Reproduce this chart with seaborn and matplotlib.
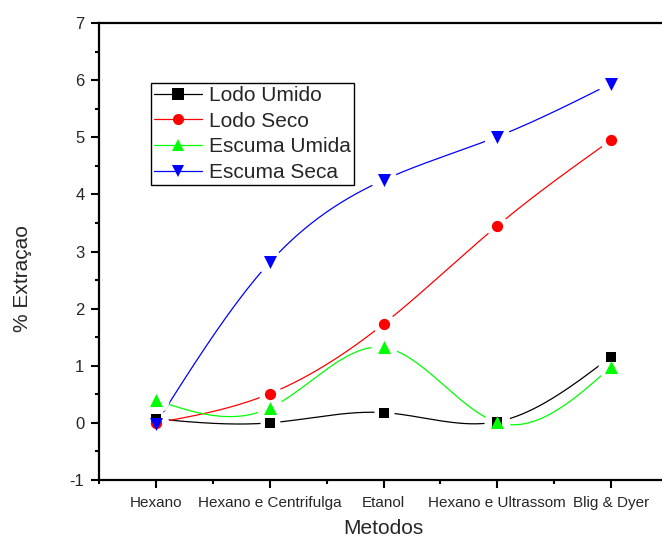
import numpy as np
import pandas as pd
import matplotlib
matplotlib.use("Agg")
import matplotlib.pyplot as plt
import seaborn as sns
from matplotlib.lines import Line2D
from matplotlib.ticker import MultipleLocator

metodos = ["Hexano", "Hexano e Centrifulga", "Etanol", "Hexano e Ultrassom", "Blig & Dyer"]
lodo_umido = [0.07, 0.0, 0.18, 0.02, 1.16]
lodo_seco = [0.0, 0.51, 1.73, 3.45, 4.95]
escuma_umida = [0.40, 0.26, 1.32, 0.01, 0.98]
escuma_seca = [-0.02, 2.81, 4.25, 5.01, 5.94]

series = ["Lodo Umido", "Lodo Seco", "Escuma Umida", "Escuma Seca"]
cores = {"Lodo Umido": "#000000", "Lodo Seco": "#ff0000",
         "Escuma Umida": "#00ff00", "Escuma Seca": "#0000ff"}
marcadores = {"Lodo Umido": "s", "Lodo Seco": "o", "Escuma Umida": "^", "Escuma Seca": "v"}
tamanhos = {"Lodo Umido": 52, "Lodo Seco": 66, "Escuma Umida": 88, "Escuma Seca": 88}

df = pd.DataFrame({
    "x": list(range(len(metodos))) * 4,
    "valor": lodo_umido + lodo_seco + escuma_umida + escuma_seca,
    "serie": sum([[s] * len(metodos) for s in series], []),
})


def spline_natural(y, n=60):
    # spline cubica natural (como o "spline" do Origin), x igualmente espacado
    y = np.asarray(y, float)
    k = len(y)
    A = np.zeros((k, k))
    b = np.zeros(k)
    A[0, 0] = A[-1, -1] = 1
    for i in range(1, k - 1):
        A[i, i - 1], A[i, i], A[i, i + 1] = 1, 4, 1
        b[i] = 6 * (y[i + 1] - 2 * y[i] + y[i - 1])
    M = np.linalg.solve(A, b)
    xs, ys = [], []
    for i in range(k - 1):
        t = np.linspace(0, 1, n)
        yy = (M[i] * (1 - t) ** 3 / 6 + M[i + 1] * t ** 3 / 6
              + (y[i] - M[i] / 6) * (1 - t) + (y[i + 1] - M[i + 1] / 6) * t)
        xs.append(i + t)
        ys.append(yy)
    return np.concatenate(xs), np.concatenate(ys)


sns.set_style("ticks")
plt.rcParams["font.family"] = ["Liberation Sans", "DejaVu Sans"]
plt.rcParams["axes.unicode_minus"] = False

fig = plt.figure(figsize=(6.62, 5.39), dpi=100)
ax = fig.add_axes([99 / 662, 1 - 480 / 539, 569 / 662, 457 / 539])

for s in series:
    d = df[df["serie"] == s]
    xs, ys = spline_natural(d["valor"].values)
    ax.plot(xs, ys, color=cores[s], lw=0.9, zorder=2)

# halo branco para o espaco entre linha e marcador
for s in series:
    d = df[df["serie"] == s]
    ax.scatter(d["x"], d["valor"], s=tamanhos[s] * 4.0, marker="o",
               color="white", linewidths=0, zorder=3)

for s in series:
    d = df[df["serie"] == s]
    sns.scatterplot(data=d, x="x", y="valor", marker=marcadores[s], color=cores[s],
                    s=tamanhos[s], linewidth=0, ax=ax, zorder=4, legend=False)

ax.set_xlim(-0.5, 4.5)
ax.set_ylim(-1, 7)
ax.set_xticks(range(len(metodos)))
ax.set_xticklabels(metodos, fontsize=11)
ax.xaxis.set_minor_locator(MultipleLocator(0.5))
ax.yaxis.set_major_locator(MultipleLocator(1))
ax.yaxis.set_minor_locator(MultipleLocator(0.5))
ax.tick_params(axis="y", labelsize=12, pad=5)
ax.tick_params(axis="x", pad=6)
ax.tick_params(which="major", direction="out", length=5.5, width=1.5, color="black")
ax.tick_params(which="minor", direction="out", length=3, width=1.5, color="black")
for sp in ax.spines.values():
    sp.set_linewidth(1.6)
    sp.set_color("black")

ax.set_xlabel("Metodos", fontsize=15)
ax.set_ylabel("% Extraçao", fontsize=15)
ax.xaxis.set_label_coords(0.5, -0.086)
ax.yaxis.set_label_coords(-0.118, 0.44)

handles = [Line2D([], [], color=cores[s], marker=marcadores[s], lw=0.9, markersize=8,
                  markeredgewidth=0) for s in series]
leg = ax.legend(handles, series, loc="upper left", bbox_to_anchor=(0.0914, 0.869),
                borderaxespad=0, fontsize=15, frameon=True, fancybox=False,
                edgecolor="black", framealpha=1, handlelength=2.3, handletextpad=0.35,
                labelspacing=0.32, borderpad=0.15)
leg.get_frame().set_linewidth(1.0)

plt.savefig("out.png", dpi=100)
